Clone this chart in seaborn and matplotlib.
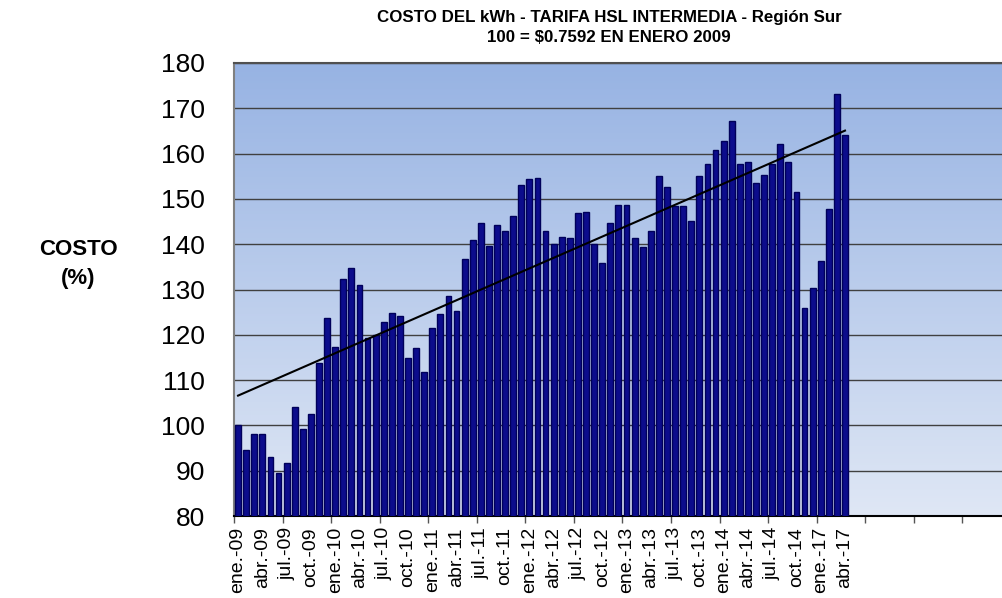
import numpy as np
import pandas as pd
import matplotlib
matplotlib.use("Agg")
import matplotlib.pyplot as plt
from matplotlib.colors import LinearSegmentedColormap
import seaborn as sn

# meses con dato (2009-2014 y luego ene-abr 2017)
meses = ["ene.", "feb.", "mar.", "abr.", "may.", "jun.",
         "jul.", "ago.", "sep.", "oct.", "nov.", "dic."]
periodos = [m + "-" + a for a in ["09", "10", "11", "12", "13", "14"] for m in meses]
periodos += ["ene.-17", "feb.-17", "mar.-17", "abr.-17"]

costo = [100.0, 94.6, 98.2, 98.2, 93.1, 89.6, 91.8, 104.0, 99.1, 102.5, 113.8, 123.6,
         117.4, 132.4, 134.8, 131.0, 119.4, 119.9, 122.8, 124.9, 124.2, 114.9, 117.1, 111.8,
         121.5, 124.7, 128.6, 125.3, 136.7, 141.0, 144.7, 139.6, 144.2, 142.9, 146.2, 153.0,
         154.5, 154.7, 142.9, 140.1, 141.5, 141.4, 146.9, 147.1, 140.0, 135.8, 144.6, 148.6,
         148.6, 141.3, 139.4, 143.0, 155.0, 152.6, 148.4, 148.4, 145.1, 155.0, 157.7, 160.7,
         162.8, 167.3, 157.8, 158.2, 153.5, 155.3, 157.7, 162.2, 158.1, 151.5, 125.9, 130.4,
         136.3, 147.7, 173.1, 164.0]

df = pd.DataFrame({"periodo": periodos, "costo": costo})

fig = plt.figure(figsize=(10.02, 5.98), dpi=100)
ax = fig.add_axes([234 / 1002, 1 - 516 / 598, 1 - 234 / 1002, (516 - 63) / 598])

# fondo degradado
cmap = LinearSegmentedColormap.from_list("fondo", ["#dfe7f5", "#97b3e3"])
ax.imshow(np.linspace(0, 1, 256).reshape(-1, 1), cmap=cmap, origin="lower",
          extent=[0, 1, 0, 1], transform=ax.transAxes, aspect="auto", zorder=0)

sn.barplot(data=df, x="periodo", y="costo", order=periodos, color="#0c0c8c",
           saturation=1, width=0.72, edgecolor="#00005a", linewidth=1.0, ax=ax, zorder=3)

# linea de tendencia lineal
xs = np.arange(len(costo))
p = np.polyfit(xs, costo, 1)
ax.plot(xs, np.polyval(p, xs), color="black", lw=1.5, zorder=4)

ax.set_xlim(-0.5, 94.4)
ax.set_ylim(80, 180)
ax.set_yticks(range(80, 181, 10))
ax.grid(axis="y", color="#404040", lw=1.0, zorder=1)
ax.set_axisbelow(True)

ax.set_xticks(xs[::3])
ax.set_xticklabels(periodos[::3], rotation=90, fontsize=14, family="Liberation Sans")
ax.set_xticks(np.arange(-0.5, 95, 6), minor=True)
ax.tick_params(axis="x", which="major", length=0, pad=8)
ax.tick_params(axis="x", which="minor", length=5, color="#555555", width=1)
ax.tick_params(axis="y", length=0, pad=21, labelsize=19)
for t in ax.get_yticklabels():
    t.set_family("Liberation Sans")
ax.set_xlabel("")
ax.set_ylabel("")

for s in ["left", "top"]:
    ax.spines[s].set_color("#808080")
    ax.spines[s].set_linewidth(1.5)
ax.spines["top"].set_color("#505050")
ax.spines["bottom"].set_color("black")
ax.spines["bottom"].set_linewidth(1.5)
ax.spines["right"].set_visible(False)

fig.text(0.608, 0.971, "COSTO DEL kWh - TARIFA HSL INTERMEDIA - Región Sur",
         ha="center", va="center", fontsize=12.2, fontweight="bold", family="Liberation Sans")
fig.text(0.608, 0.937, "100 = $0.7592 EN ENERO 2009",
         ha="center", va="center", fontsize=12.2, fontweight="bold", family="Liberation Sans")
fig.text(0.078, 0.559, "COSTO\n(%)", ha="center", va="center", fontsize=16,
         fontweight="bold", family="Liberation Sans", linespacing=1.5)

fig.savefig("out.png", dpi=100)
